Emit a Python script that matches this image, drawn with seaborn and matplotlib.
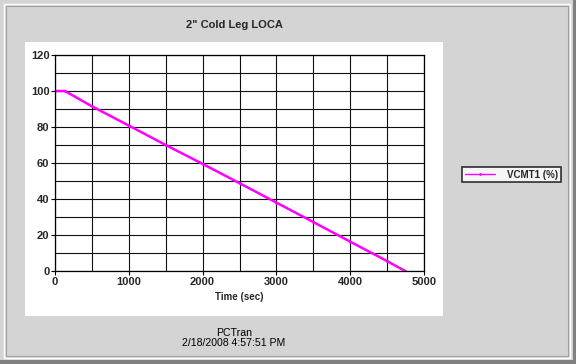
import numpy as np
import pandas as pd
import matplotlib.pyplot as plt
from matplotlib.patches import Rectangle
from matplotlib.ticker import MultipleLocator
import seaborn as sns

# dane
czas = [0, 135, 500, 1000, 1500, 2000, 2500, 3000, 3500, 4000, 4500, 4745]
vcmt1 = [100, 100, 91.5, 80.8, 70.0, 59.5, 48.8, 38.0, 27.2, 16.3, 5.5, 0]
tytul = '2" Cold Leg LOCA'
etykieta = 'VCMT1 (%)'
stopka = 'PCTran\n2/18/2008 4:57:51 PM'

sns.set_style('white')
plt.rcParams['font.family'] = ['Liberation Sans', 'DejaVu Sans']

df = pd.DataFrame({'Time (sec)': czas, etykieta: vcmt1})

fig = plt.figure(figsize=(5.76, 3.64), dpi=100)
fig.patch.set_facecolor('#d4d4d4')
W, H = 576, 364

def prost(x, y, w, h, **kw):
    # prostokat w pikselach (od gory)
    fig.patches.append(Rectangle((x / W, 1 - (y + h) / H), w / W, h / H,
                                 transform=fig.transFigure, zorder=-5, **kw))

# ramka okna
prost(0, 0, 576, 364, facecolor='#d4d4d4', edgecolor='none')
prost(0, 360, 576, 4, facecolor='#808080', edgecolor='none')
prost(573, 0, 3, 364, facecolor='#808080', edgecolor='none')
prost(4, 4, 566, 354, facecolor='none', edgecolor='#ffffff', lw=1)
prost(6, 6, 562, 350, facecolor='#d4d4d4', edgecolor='#a0a0a0', lw=0.8)
# bialy obszar wykresu
prost(25, 42, 418, 274, facecolor='white', edgecolor='none')

ax = fig.add_axes([55 / W, 1 - 271 / H, 369 / W, 216 / H])
ax.set_zorder(5)
ax.set_facecolor('white')
sns.lineplot(data=df, x='Time (sec)', y=etykieta, ax=ax, color='#ff00ff', lw=1.8,
             marker='o', markersize=2, markeredgewidth=0, label=etykieta, legend=False)

ax.set_xlim(0, 5000)
ax.set_ylim(0, 120)
ax.xaxis.set_major_locator(MultipleLocator(1000))
ax.xaxis.set_minor_locator(MultipleLocator(500))
ax.yaxis.set_major_locator(MultipleLocator(20))
ax.yaxis.set_minor_locator(MultipleLocator(10))
ax.grid(True, which='both', color='#101010', lw=0.8)
ax.set_axisbelow(True)
for s in ax.spines.values():
    s.set_color('black')
    s.set_linewidth(0.9)
ax.tick_params(which='major', direction='out', length=3, width=0.8, color='black',
               labelsize=8, pad=1, left=True, bottom=True)
ax.tick_params(which='minor', length=0)
for t in ax.get_xticklabels() + ax.get_yticklabels():
    t.set_fontweight('bold')
ax.set_xlabel('Time (sec)', fontsize=7, fontweight='bold', labelpad=4)
ax.set_ylabel('')

fig.text(234 / W, 1 - 25 / H, tytul, ha='center', va='center', fontsize=8, fontweight='bold')
fig.text(234 / W, 1 - 338 / H, stopka, ha='center', va='center', fontsize=7.6,
         linespacing=1.0, color='black')

uchwyty, etyk = ax.get_legend_handles_labels()
leg = fig.legend(uchwyty, etyk, loc='center left', bbox_to_anchor=(462 / W, 1 - 174.5 / H),
                 borderaxespad=0, frameon=True, fancybox=False,
                 prop={'size': 7, 'weight': 'bold'},
                 handlelength=3.1, borderpad=0.3, handletextpad=1.2)
leg.set_zorder(6)
leg.get_frame().set_edgecolor('black')
leg.get_frame().set_linewidth(1.2)
leg.get_frame().set_facecolor('white')
leg.legend_handles[0].set_linewidth(1.0)

fig.savefig('out.png', dpi=100, facecolor=fig.get_facecolor())
